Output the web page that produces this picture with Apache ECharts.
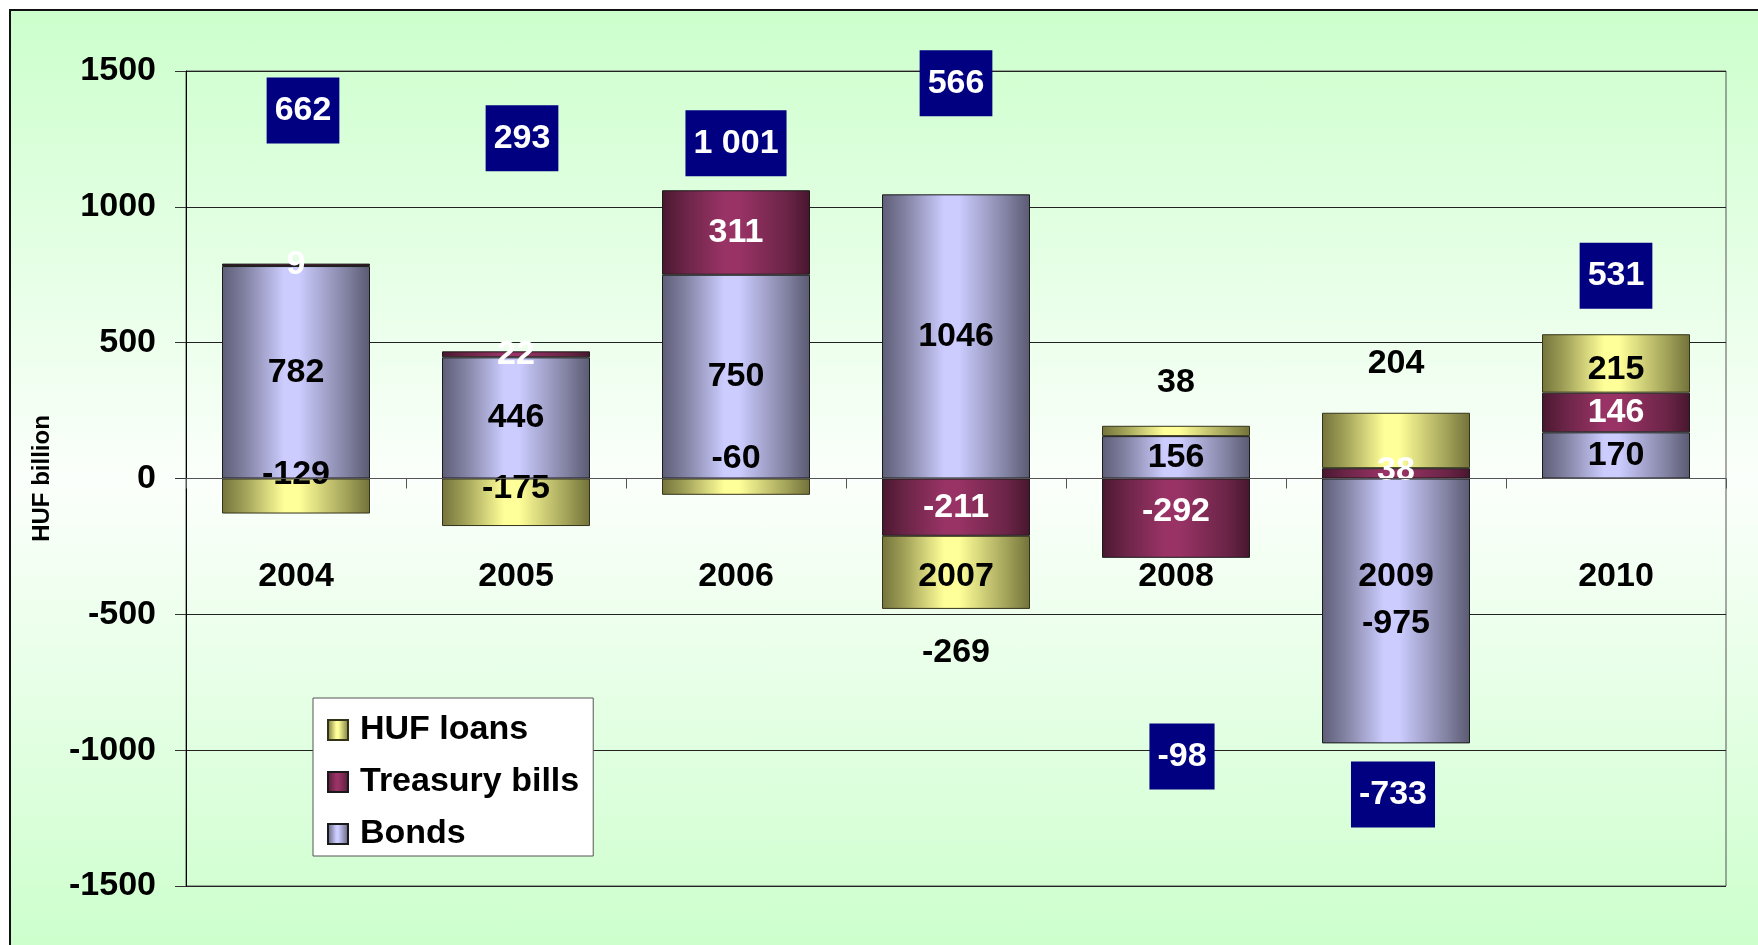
<!DOCTYPE html>
<html>
<head>
<meta charset="utf-8">
<script src="https://cdn.jsdelivr.net/npm/echarts@6/dist/echarts.min.js"></script>
<style>
  html, body { margin: 0; padding: 0; background: #fff; overflow: hidden; }
  #bg {
    position: absolute; left: 9px; top: 9px; width: 1800px; height: 940px;
    border-left: 2px solid #111; border-top: 2px solid #111;
    background: linear-gradient(to bottom, #ccffcc 0%, #fbfffb 50%, #ccffcc 100%);
  }
  #chart { position: absolute; left: 0; top: 0; width: 1758px; height: 945px; }
</style>
</head>
<body>
<div id="bg"></div>
<div id="chart"></div>
<script>
const years = ['2004', '2005', '2006', '2007', '2008', '2009', '2010'];
const bonds = [782, 446, 750, 1046, 156, -975, 170];
const tbills = [9, 22, 311, -211, -292, 38, 146];
const hufLoans = [-129, -175, -60, -269, 38, 204, 215];
const totals = [662, 293, 1001, 566, -98, -733, 531];

// where the navy total boxes sit (axis units) and label nudges (px)
const totalLabelY = [1355, 1252, 1234, 1455, -1023, -1163, 746];
const totalLabelDx = [7, 6, 0, 0, 6, -3, 0];
const hufLabelOffset = [-21, -14, -28, 80, -48, -77, 6];
const bondLabelOffset = [0, 0, 0, 0, 0, 13, 0];
const billLabelOffset = [0, 0, 0, 0, -7, -3, 0];

const FONT = 'Arial, "Liberation Sans", sans-serif';
const GRID_TOP = 71, GRID_BOTTOM = 59, CHART_H = 945;
// shift the category axis up to the zero line
const zeroShift = -(CHART_H - GRID_TOP - GRID_BOTTOM) / 2;

const cyl = (edge, side, mid, edge2) => new echarts.graphic.LinearGradient(0, 0, 1, 0, [
  { offset: 0, color: edge },
  { offset: 0.15, color: side },
  { offset: 0.42, color: mid },
  { offset: 0.52, color: mid },
  { offset: 0.85, color: side },
  { offset: 1, color: edge2 },
]);

const bondColor = cyl('#5e5e78', '#8080a0', '#ccccff', '#5a5a72');
const billColor = cyl('#4a1730', '#6a2446', '#993366', '#48162e');
const hufColor = cyl('#74743c', '#a0a058', '#ffff99', '#72723a');

const labelBase = {
  show: true,
  position: 'inside',
  fontFamily: FONT,
  fontSize: 34,
  fontWeight: 'bold',
  lineHeight: 34,
  opacity: 1,
};

const withOffsets = (values, offsets) =>
  values.map((v, i) => ({ value: v, label: { offset: [0, offsets[i]] } }));

const fmtTotal = v => {
  const s = String(Math.abs(v)).replace(/\B(?=(\d{3})+(?!\d))/g, ' ');
  return v < 0 ? '-' + s : s;
};

const chart = echarts.init(document.getElementById('chart'));

const option = {
  backgroundColor: 'transparent',
  animation: false,
  grid: {
    left: 186, right: 32, top: GRID_TOP, bottom: GRID_BOTTOM,
    outerBoundsMode: 'none',
    containLabel: false,
    show: true, borderColor: '#555', borderWidth: 1,
    backgroundColor: 'transparent',
  },
  legend: {
    orient: 'vertical',
    left: 313,
    top: 698,
    data: ['HUF loans', 'Treasury bills', 'Bonds'],
    icon: 'rect',
    backgroundColor: '#fff',
    borderColor: '#555',
    borderWidth: 1,
    padding: [15, 14, 5, 14],
    itemWidth: 20,
    itemHeight: 20,
    itemGap: 18,
    textStyle: {
      fontFamily: FONT, fontSize: 34, fontWeight: 'bold', color: '#000',
      lineHeight: 34, padding: [0, 0, 0, 7],
    },
  },
  xAxis: {
    type: 'category',
    data: years,
    z: 10,
    offset: zeroShift,
    axisLine: { onZero: false, lineStyle: { color: '#555', width: 1 } },
    axisTick: { show: true, length: 10, lineStyle: { color: '#555' } },
    axisLabel: {
      margin: 81, color: '#000', fontFamily: FONT, fontSize: 34, fontWeight: 'bold',
    },
    splitLine: { show: false },
  },
  yAxis: {
    type: 'value',
    min: -1500,
    max: 1500,
    interval: 500,
    name: 'HUF billion',
    nameLocation: 'middle',
    nameRotate: 90,
    nameGap: 132,
    nameTextStyle: { fontFamily: FONT, fontSize: 24, fontWeight: 'bold', color: '#000' },
    axisLine: { show: true, lineStyle: { color: '#000' } },
    axisTick: { show: true, length: 11, lineStyle: { color: '#333' } },
    axisLabel: {
      margin: 30, color: '#000', fontFamily: FONT, fontSize: 34, fontWeight: 'bold',
      formatter: v => String(v),
    },
    splitLine: { show: true, lineStyle: { color: '#222', width: 1 } },
  },
  series: [
    {
      name: 'Bonds',
      type: 'bar',
      stack: 'total',
      barWidth: 148,
      data: withOffsets(bonds, bondLabelOffset),
      itemStyle: { color: bondColor, borderColor: '#1a1a1a', borderWidth: 1 },
      label: { ...labelBase, color: '#000' },
    },
    {
      name: 'Treasury bills',
      type: 'bar',
      stack: 'total',
      barWidth: 148,
      data: withOffsets(tbills, billLabelOffset),
      itemStyle: { color: billColor, borderColor: '#1a1a1a', borderWidth: 1 },
      label: { ...labelBase, color: '#fff' },
    },
    {
      name: 'HUF loans',
      type: 'bar',
      stack: 'total',
      barWidth: 148,
      data: withOffsets(hufLoans, hufLabelOffset),
      itemStyle: { color: hufColor, borderColor: '#33331a', borderWidth: 1 },
      label: { ...labelBase, color: '#000' },
    },
    {
      name: 'Total',
      type: 'scatter',
      silent: true,
      symbol: 'rect',
      symbolSize: 1,
      itemStyle: { color: 'rgba(0,0,0,0)', opacity: 1 },
      z: 20,
      data: totalLabelY.map((y, i) => ({ value: [i, y], label: { offset: [totalLabelDx[i], 0] } })),
      label: {
        ...labelBase,
        color: '#fff',
        backgroundColor: '#000080',
        padding: [16, 8, 16, 8],
        formatter: p => fmtTotal(totals[p.dataIndex]),
      },
    },
  ],
};

chart.setOption(option);
</script>
</body>
</html>
